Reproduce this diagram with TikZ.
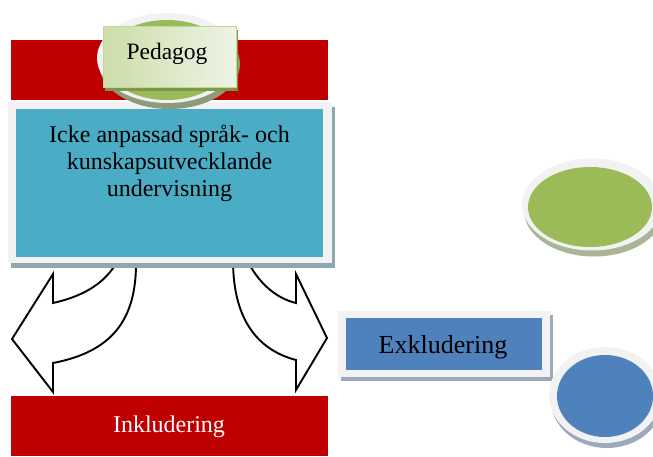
\documentclass[tikz,border=0pt]{standalone}
\usepackage{fontspec}
\setmainfont{Liberation Serif}
\usetikzlibrary{shapes.geometric,shadows}

\definecolor{barred}{HTML}{C00000}
\definecolor{tealfill}{HTML}{4BACC6}
\definecolor{bluefill}{HTML}{4F81BD}
\definecolor{greenfill}{HTML}{9BBB59}
\definecolor{framegrey}{HTML}{F2F2F2}
\definecolor{tealshadow}{HTML}{8FA8B0}
\definecolor{blueshadow}{HTML}{9CA9BC}
\definecolor{greenshadow}{HTML}{A9B594}
\definecolor{discshadow}{HTML}{8E9A7A}
\definecolor{oliveshadow}{HTML}{7D9848}
\definecolor{boxedge}{HTML}{C3D69B}
\definecolor{boxlight}{HTML}{EEF4E4}
\definecolor{boxgreen}{HTML}{CCDDAA}

\begin{document}
\begin{tikzpicture}[x=1pt,y=-1pt,
  bar/.style={rectangle, fill=barred, minimum width=317pt, minimum height=60pt, inner sep=0pt},
  framebox/.style={rectangle, fill=framegrey, inner sep=0pt},
  plainbox/.style={rectangle, inner sep=0pt},
  ring/.style={ellipse, fill=framegrey, inner sep=0pt},
  disc/.style={ellipse, inner sep=0pt},
  curvedarrow/.style={draw=black, fill=white, line width=1.9pt, line join=miter},
  label/.style={inner sep=0pt, anchor=base},
  shadowof/.style={drop shadow={shadow xshift=3pt, shadow yshift=-5pt, fill=#1, opacity=1}}
]
\useasboundingbox (0,0) rectangle (653,456);

% red band behind the teacher label
\node[bar] (topbar) at (169.5,70) {};

% curved arrows leaving the main box
\draw[curvedarrow] (136,260) .. controls (137,322) and (110,352) .. (53,363)
  -- (53,392) -- (12,339) -- (53,274) -- (53,303)
  .. controls (80,297) and (105,285) .. (118,260) -- cycle;
\draw[curvedarrow] (233,260) .. controls (233,320) and (258,350) .. (296,360)
  -- (296,390) -- (327,338) -- (296,274) -- (296,303)
  .. controls (275,298) and (258,282) .. (247,260) -- cycle;

% main box
\node[framebox, minimum width=324pt, minimum height=161pt, shadowof=tealshadow] (mainframe) at (170,182.5) {};
\node[plainbox, fill=tealfill, minimum width=307pt, minimum height=148pt] (mainbox) at (169.5,183) {};
\node[inner sep=0pt, anchor=north, align=center, font=\fontsize{24}{27}\selectfont] (maintext) at (169.5,125)
  {Icke anpassad språk- och\\kunskapsutvecklande\\undervisning};

% teacher disc and label
\node[ring, minimum width=141pt, minimum height=90pt,
  drop shadow={shadow xshift=2pt, shadow yshift=-6pt, fill=discshadow, opacity=1}] (pedring) at (167.5,58) {};
\node[disc, fill=greenfill, minimum width=126pt, minimum height=80pt] (peddisc) at (167,60) {};
\node[plainbox, draw=boxedge, line width=1pt, left color=boxgreen, right color=boxlight,
  minimum width=133pt, minimum height=61pt,
  drop shadow={shadow xshift=2pt, shadow yshift=-4pt, fill=oliveshadow, opacity=1}] (pedbox) at (169.5,56.5) {};
\node[label, font=\fontsize{23.5}{28}\selectfont] (pedtext) at (167,59) {Pedagog};

% exclusion box
\node[framebox, minimum width=212pt, minimum height=66pt,
  drop shadow={shadow xshift=3pt, shadow yshift=-4pt, fill=blueshadow, opacity=1}] (exframe) at (444,344) {};
\node[plainbox, fill=bluefill, minimum width=196pt, minimum height=52pt] (exbox) at (444,344) {};
\node[label, font=\fontsize{26}{30}\selectfont] (extext) at (443,353) {Exkludering};

% discs on the right
\node[ring, minimum width=140pt, minimum height=92pt,
  drop shadow={shadow xshift=2pt, shadow yshift=-6pt, fill=greenshadow, opacity=1}] (greenring) at (592,204.5) {};
\node[disc, fill=greenfill, minimum width=124pt, minimum height=80pt] (greendisc) at (590,207) {};

\node[ring, minimum width=112pt, minimum height=96pt,
  drop shadow={shadow xshift=2pt, shadow yshift=-5pt, fill=blueshadow, opacity=1}] (bluering) at (605,395) {};
\node[disc, fill=bluefill, minimum width=96pt, minimum height=82pt] (bluedisc) at (605,396) {};

% inclusion band
\node[bar] (botbar) at (169.5,426) {};
\node[label, text=white, font=\fontsize{24}{28}\selectfont] (intext) at (169,432) {Inkludering};
\end{tikzpicture}
\end{document}
